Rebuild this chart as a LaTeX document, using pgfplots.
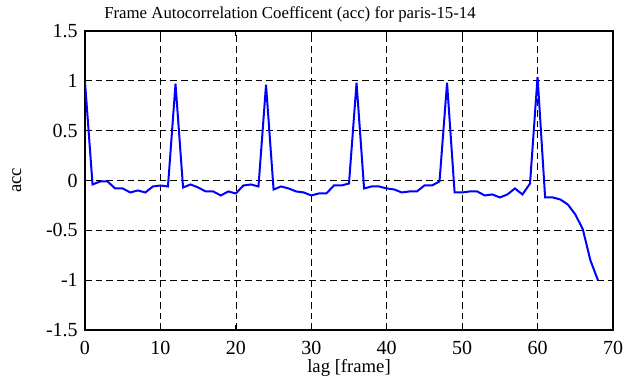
\documentclass[border=0pt]{standalone}
\usepackage{fontspec}
\setmainfont{Liberation Serif}
\usepackage{pgfplots}
\pgfplotsset{compat=1.18}
\begin{document}
\begin{tikzpicture}
\fontsize{14}{16}\selectfont
\begin{axis}[
  scale only axis,
  width=396pt, height=224.25pt,
  xmin=0, xmax=70, ymin=-1.5, ymax=1.5,
  xtick={0,10,...,70},
  ytick={-1.5,-1,-0.5,0,0.5,1,1.5},
  yticklabels={-1.5,-1,-0.5,0,0.5,1,1.5},
  /pgf/number format/assume math mode=true,
  tick label style={font=\fontsize{15}{17}\selectfont, inner sep=0pt},
  tick align=inside,
  major tick length=4pt,
  tick style={black, line width=0.8pt},
  axis line style={black, line width=1pt},
  grid=major,
  grid style={black, line width=0.5pt, dash pattern=on 5pt off 3pt},
  title={Frame Autocorrelation Coefficent (acc) for paris-15-14},
  title style={at={(axis description cs:0.036,1.0535)}, anchor=base west, yshift=-9pt, inner sep=0pt, font=\fontsize{12.6}{14}\selectfont},
  xlabel={lag [frame]},
  xlabel style={at={(axis description cs:0.5,-0.1405)}, anchor=base, inner sep=0pt, font=\fontsize{14}{16}\selectfont},
  ylabel={acc},
  ylabel style={at={(axis description cs:-0.129,0.5)}, anchor=center, font=\fontsize{14}{16}\selectfont},
  yticklabel style={anchor=east, xshift=-5.25pt},
  xticklabel style={anchor=base, yshift=-18.75pt},
]
\addplot[color={rgb,255:red,0;green,0;blue,255}, line width=1.5pt, mark=none] coordinates {
(0,0.99)(1,-0.04)(2,-0.01)(3,-0.01)(4,-0.08)(5,-0.08)(6,-0.12)(7,-0.10)(8,-0.12)(9,-0.06)
(10,-0.05)(11,-0.06)(12,0.97)(13,-0.07)(14,-0.04)(15,-0.07)(16,-0.11)(17,-0.11)(18,-0.15)(19,-0.11)
(20,-0.13)(21,-0.05)(22,-0.04)(23,-0.06)(24,0.96)(25,-0.09)(26,-0.06)(27,-0.08)(28,-0.11)(29,-0.12)
(30,-0.15)(31,-0.13)(32,-0.13)(33,-0.05)(34,-0.05)(35,-0.03)(36,0.98)(37,-0.08)(38,-0.06)(39,-0.06)
(40,-0.08)(41,-0.09)(42,-0.12)(43,-0.11)(44,-0.11)(45,-0.05)(46,-0.05)(47,-0.01)(48,0.98)(49,-0.12)
(50,-0.12)(51,-0.11)(52,-0.11)(53,-0.15)(54,-0.14)(55,-0.17)(56,-0.14)(57,-0.08)(58,-0.14)(59,-0.03)
(60,1.04)(61,-0.17)(62,-0.17)(63,-0.19)(64,-0.24)(65,-0.34)(66,-0.49)(67,-0.80)(68,-1.00)
};
\end{axis}
\pgfresetboundingbox
\path ([shift={(-63.75pt,-42.75pt)}]current axis.south west) rectangle ([shift={(12.75pt,23.25pt)}]current axis.north east);
\end{tikzpicture}
\end{document}
